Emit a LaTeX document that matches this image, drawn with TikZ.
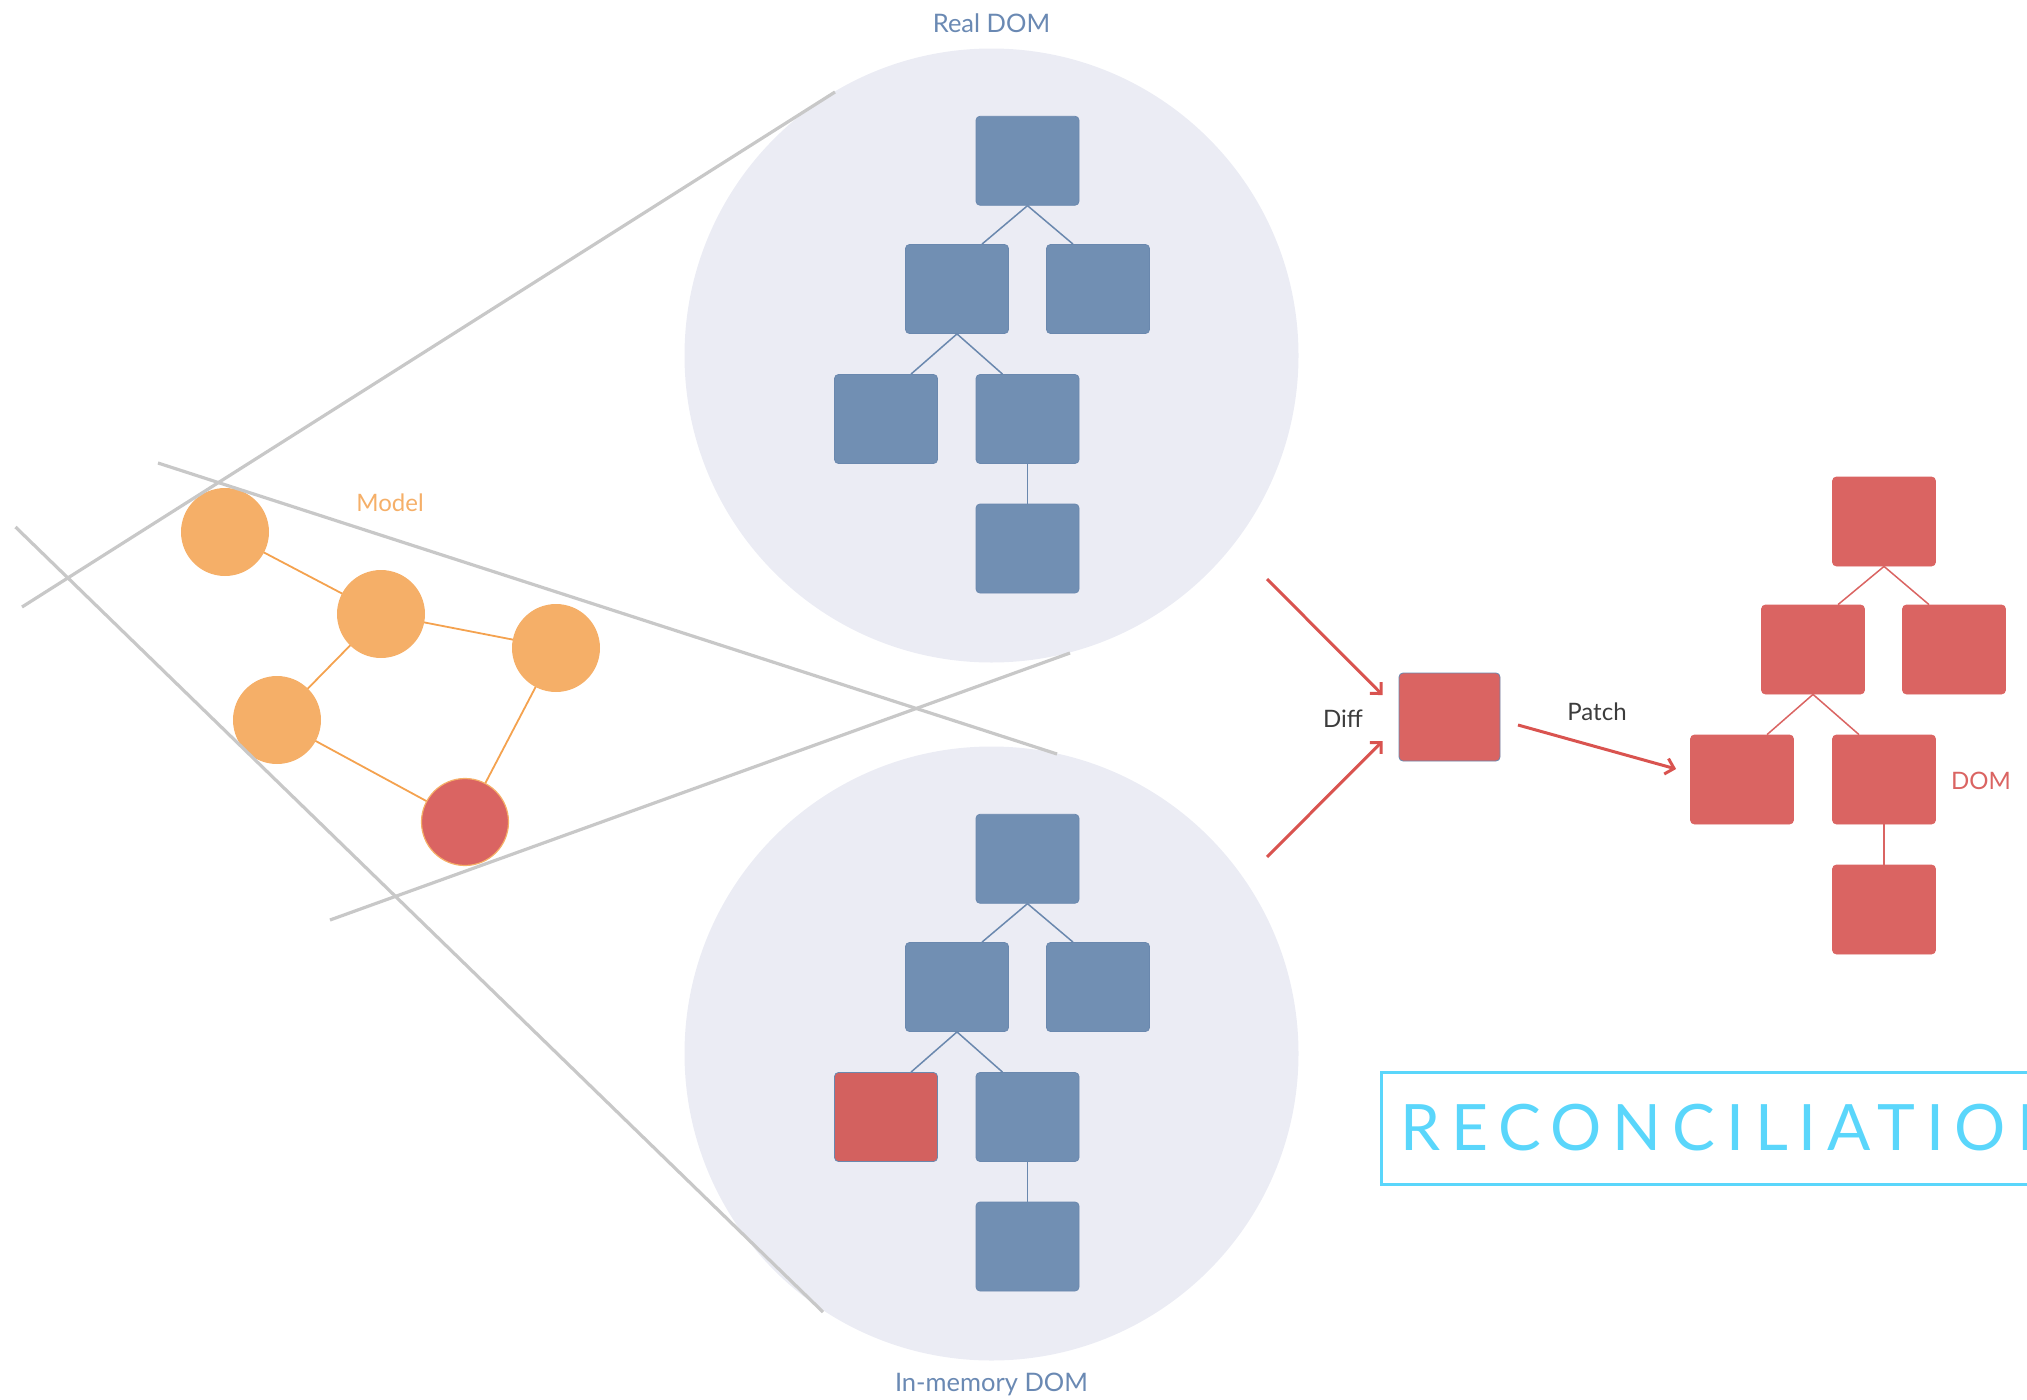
\documentclass[tikz,border=0pt]{standalone}
\usepackage{fontspec}
\setmainfont{Lato}
\usetikzlibrary{arrows.meta}
\definecolor{boxblue}{HTML}{718FB3}
\definecolor{boxblueedge}{HTML}{6A88AE}
\definecolor{boxred}{HTML}{DA6462}
\definecolor{lav}{HTML}{EBECF4}
\definecolor{orng}{HTML}{F5AF68}
\definecolor{orngline}{HTML}{F4A24F}
\definecolor{gline}{HTML}{C8C8C8}
\definecolor{cyanish}{HTML}{5AD6FB}
\definecolor{txtblue}{HTML}{6A89B3}
\definecolor{txtdark}{HTML}{3C3C3C}
\definecolor{arrred}{HTML}{D9534F}
\begin{document}
\begin{tikzpicture}[x=1pt,y=-1pt,
  bbox/.style={rectangle, rounded corners=4pt, fill=boxblue, draw=boxblueedge, line width=0.8pt,
    minimum width=103pt, minimum height=89pt, inner sep=0pt},
  rbox/.style={rectangle, rounded corners=4pt, fill=boxred, draw=boxred, line width=0.8pt,
    minimum width=103pt, minimum height=89pt, inner sep=0pt},
  bigc/.style={circle, fill=lav, minimum size=614pt, inner sep=0pt},
  mcirc/.style={circle, fill=orng, minimum size=88pt, inner sep=0pt},
  redc/.style={circle, fill=boxred, draw=orng, line width=1.2pt, minimum size=87pt, inner sep=0pt},
  greyline/.style={gline, line width=3.2pt},
  oline/.style={orngline, line width=1.8pt},
  tlineb/.style={boxblueedge, line width=1.5pt},
  tliner/.style={boxred, line width=1.5pt},
  rarrow/.style={arrred, line width=3pt, -{Straight Barb[length=8pt,width=16pt]}},
  lbl/.style={font=\fontsize{24}{28}\selectfont, inner sep=0pt}
]
\useasboundingbox (0,0) rectangle (2027,1400);
\clip (0,0) rectangle (2027,1400);

% big circles
\node[bigc] (top) at (991.5,355.5) {};
\node[bigc] (bot) at (991.5,1053.5) {};

% model graph: place coordinates, draw edges, then circles on top
\coordinate (p1) at (225,532);
\coordinate (p2) at (381,614);
\coordinate (p3) at (556,648);
\coordinate (p4) at (277,720);
\coordinate (p5) at (465,822);
\draw[oline] (p1) -- (p2);
\draw[oline] (p2) -- (p3);
\draw[oline] (p2) -- (p4);
\draw[oline] (p4) -- (p5);
\draw[oline] (p3) -- (p5);
\node[mcirc] (c1) at (p1) {};
\node[mcirc] (c2) at (p2) {};
\node[mcirc] (c3) at (p3) {};
\node[mcirc] (c4) at (p4) {};
\node[redc] (c5) at (p5) {};
\node[lbl, text=orng] (model) at (390,503) {Model};

% grey projection lines
\coordinate (g1a) at (22,607);   \coordinate (g1b) at (835,92);
\coordinate (g2a) at (158,463);  \coordinate (g2b) at (1057,754);
\coordinate (g3a) at (15.5,527); \coordinate (g3b) at (823,1312);
\coordinate (g4a) at (330,920);  \coordinate (g4b) at (1070,653);
\draw[greyline] (g1a) -- (g1b);
\draw[greyline] (g2a) -- (g2b);
\draw[greyline] (g3a) -- (g3b);
\draw[greyline] (g4a) -- (g4b);

% upper tree (Real DOM)
\node[bbox] (u1) at (1027.5,160.75) {};
\node[bbox] (u2) at (957,289) {};
\node[bbox] (u3) at (1098,289) {};
\node[bbox] (u4) at (886,419) {};
\node[bbox] (u5) at (1027.5,419) {};
\node[bbox] (u6) at (1027.5,548.5) {};
\draw[tlineb] (u1.south) -- ([xshift=25pt]u2.north);
\draw[tlineb] (u1.south) -- ([xshift=-25pt]u3.north);
\draw[tlineb] (u2.south) -- ([xshift=25pt]u4.north);
\draw[tlineb] (u2.south) -- ([xshift=-25pt]u5.north);
\draw[tlineb] (u5.south) -- (u6.north);

% lower tree (In-memory DOM)
\node[bbox] (l1) at (1027.5,858.75) {};
\node[bbox] (l2) at (957,987) {};
\node[bbox] (l3) at (1098,987) {};
\node[bbox, fill=boxred!97!black] (l4) at (886,1117) {};
\node[bbox] (l5) at (1027.5,1117) {};
\node[bbox] (l6) at (1027.5,1246.5) {};
\draw[tlineb] (l1.south) -- ([xshift=25pt]l2.north);
\draw[tlineb] (l1.south) -- ([xshift=-25pt]l3.north);
\draw[tlineb] (l2.south) -- ([xshift=25pt]l4.north);
\draw[tlineb] (l2.south) -- ([xshift=-25pt]l5.north);
\draw[tlineb] (l5.south) -- (l6.north);

\node[font=\fontsize{25.5}{30}\selectfont, text=txtblue, inner sep=0pt] (rdl) at (991.5,23) {Real DOM};
\node[font=\fontsize{25.5}{30}\selectfont, text=txtblue, inner sep=0pt] (iml) at (991.5,1384) {In-memory DOM};

% diff box and arrows
\node[rbox, draw=boxblueedge, minimum width=101pt, minimum height=88pt] (diff) at (1449.5,717) {};
\coordinate (a1s) at (1267,579);
\coordinate (a2s) at (1267,857);
\draw[rarrow] (a1s) -- ([xshift=-16pt,yshift=22pt]diff.west);
\draw[rarrow] (a2s) -- ([xshift=-16pt,yshift=-24pt]diff.west);
\node[lbl, text=txtdark] (difflbl) at (1343,719) {Diff};

% right red tree (DOM)
\node[rbox] (d1) at (1884,521.5) {};
\node[rbox] (d2) at (1813,649.5) {};
\node[rbox] (d3) at (1954,649.5) {};
\node[rbox] (d4) at (1742,779.5) {};
\node[rbox] (d5) at (1884,779.5) {};
\node[rbox] (d6) at (1884,909.5) {};
\draw[tliner] (d1.south) -- ([xshift=25pt]d2.north);
\draw[tliner] (d1.south) -- ([xshift=-25pt]d3.north);
\draw[tliner] (d2.south) -- ([xshift=25pt]d4.north);
\draw[tliner] (d2.south) -- ([xshift=-25pt]d5.north);
\draw[tliner] (d5.south) -- (d6.north);
\node[lbl, text=boxred] (domlbl) at (1981,781) {DOM};

\coordinate (ps) at (1518,725);
\draw[rarrow] (ps) -- ([xshift=-14pt,yshift=10.5pt]d4.west);
\node[lbl, text=txtdark] (patchlbl) at (1597,712) {Patch};

% reconciliation banner
\draw[cyanish, line width=3pt] (1381,1072) rectangle (2060,1184);
\node[anchor=base west, inner sep=0pt, text=cyanish,
  font=\fontsize{64}{70}\selectfont\addfontfeatures{LetterSpace=17}] (rec) at (1400,1150) {RECONCILIATION};
\end{tikzpicture}
\end{document}
